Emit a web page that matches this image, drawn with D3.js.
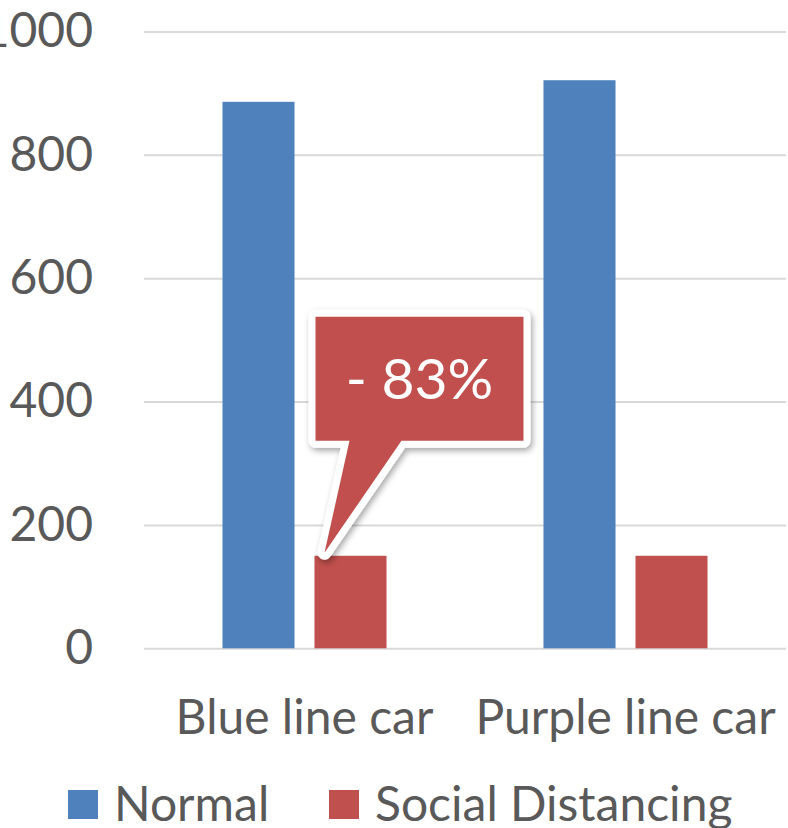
<!DOCTYPE html>
<meta charset="utf-8">
<style>
  body { margin: 0; background: #fff; }
  text { font-family: Lato, "Open Sans", sans-serif; fill: #595959; }
  .grid line { stroke: #d9d9d9; stroke-width: 2; }
</style>
<svg width="788" height="828"></svg>
<script src="https://cdn.jsdelivr.net/npm/d3@7/dist/d3.min.js"></script>
<script>

// data
const categories = ["Blue line car", "Purple line car"];
const seriesNames = ["Normal", "Social Distancing"];
const normal = [886, 921];
const socialDistancing = [150, 150];
const yTicks = [0, 200, 400, 600, 800, 1000];
const calloutText = "- 83%";

const colors = { "Normal": "#4f81bd", "Social Distancing": "#c0504d" };

const svg = d3.select("svg");
const margin = {top: 31.5, right: 2, left: 144},
      width = 788 - margin.left - margin.right,
      height = 648.3 - margin.top;

const rows = categories.map((c, i) => ({
  cat: c,
  values: [
    {key: "Normal", value: normal[i]},
    {key: "Social Distancing", value: socialDistancing[i]}
  ]
}));

const x0 = d3.scaleBand().domain(categories).range([0, width]);
const x1 = d3.scaleBand().domain(seriesNames)
  .range([0, x0.bandwidth()])
  .paddingInner(0.217)
  .paddingOuter(0.853);
const y = d3.scaleLinear().domain([0, 1000]).range([height, 0]);

const chart = svg.append("g")
  .attr("transform", `translate(${margin.left},${margin.top})`);

// gridlines + y labels
const yAxis = chart.append("g")
  .attr("class", "grid")
  .call(d3.axisLeft(y).tickValues(yTicks).tickFormat(d3.format("d"))
    .tickSize(-width).tickPadding(51));
yAxis.select(".domain").remove();
yAxis.selectAll("text")
  .style("font-size", "48px")
  .attr("fill", "#595959");

// bars
const groups = chart.selectAll(".cat")
  .data(rows)
  .join("g")
  .attr("class", "cat")
  .attr("transform", d => `translate(${x0(d.cat)},0)`);

groups.selectAll("rect")
  .data(d => d.values)
  .join("rect")
  .attr("x", d => x1(d.key))
  .attr("width", x1.bandwidth())
  .attr("y", d => y(d.value))
  .attr("height", d => height - y(d.value))
  .attr("fill", d => colors[d.key]);

// x labels
chart.selectAll(".xlab")
  .data(categories)
  .join("text")
  .attr("class", "xlab")
  .attr("x", d => x0(d) + x0.bandwidth() / 2)
  .attr("y", 734 - margin.top)
  .attr("text-anchor", "middle")
  .style("font-size", "48px")
  .text(d => d);

// callout
const defs = svg.append("defs");
const f = defs.append("filter").attr("id", "shadow")
  .attr("x", "-20%").attr("y", "-20%").attr("width", "140%").attr("height", "140%");
f.append("feDropShadow")
  .attr("dx", 2).attr("dy", 3).attr("stdDeviation", 3)
  .attr("flood-color", "#000").attr("flood-opacity", 0.35);

const tipX = x0(categories[0]) + x1("Social Distancing") + 10;
const tipY = y(socialDistancing[0]) - 3;
const bx0 = tipX - 9, bx1 = tipX + 199, by0 = tipY - 236, by1 = tipY - 112;
const path = `M${bx0},${by0} H${bx1} V${by1} H${tipX + 77} L${tipX},${tipY} L${tipX + 25},${by1} H${bx0} Z`;

chart.append("path")
  .attr("d", path)
  .attr("fill", colors["Social Distancing"])
  .attr("stroke", "#fff")
  .attr("stroke-width", 14)
  .attr("stroke-linejoin", "round")
  .attr("paint-order", "stroke")
  .attr("filter", "url(#shadow)");

chart.append("text")
  .attr("x", (bx0 + bx1) / 2)
  .attr("y", (by0 + by1) / 2 + 20)
  .attr("text-anchor", "middle")
  .style("font-size", "57px")
  .style("fill", "#fff")
  .text(calloutText);

// legend
const legend = svg.append("g");
const legendX = [68, 329];
seriesNames.forEach((s, i) => {
  legend.append("rect")
    .attr("x", legendX[i]).attr("y", 790)
    .attr("width", 30).attr("height", 29)
    .attr("fill", colors[s]);
  legend.append("text")
    .attr("x", legendX[i] + 46).attr("y", 821)
    .style("font-size", "48px")
    .text(s);
});
</script>
